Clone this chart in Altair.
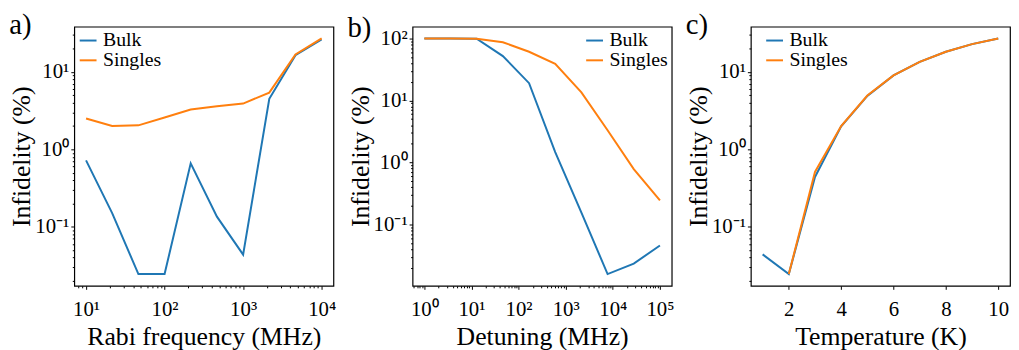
import math
import altair as alt
import pandas as pd

FONT = "Liberation Serif, Times New Roman, serif"
BLUE = "#1f77b4"
ORANGE = "#ff7f0e"

# ---- data ----
# a) Rabi frequency sweep
rabi_mhz = [10, 21.5, 46.4, 100, 215, 464, 1000, 2154, 4642, 10000]
rabi_bulk = [0.72, 0.15, 0.0245, 0.0245, 0.66, 0.135, 0.0436, 4.5, 16.4, 26.2]
rabi_singles = [2.5, 2.0, 2.04, 2.57, 3.26, 3.6, 3.9, 5.4, 16.8, 27.0]

# b) Detuning sweep
detuning_mhz = [1, 3.59, 12.9, 46.4, 167, 599, 2154, 7743, 27826, 100000]
det_bulk = [100, 100, 99, 52, 19, 1.47, 0.155, 0.0158, 0.0233, 0.0457]
det_singles = [100, 100, 99, 87, 61, 39, 13.5, 3.3, 0.78, 0.245]

# c) Temperature sweep
temperature_k = [1, 2, 3, 4, 5, 6, 7, 8, 9, 10]
temp_bulk = [0.044, 0.0245, 0.44, 1.98, 4.9, 9.0, 13.5, 18.2, 22.8, 27.0]
temp_singles = [None, 0.0245, 0.51, 2.0, 4.95, 9.0, 13.5, 18.2, 22.8, 27.0]

series_names = ["Bulk", "Singles"]

SUP = {-2: "⁻²", -1: "⁻¹", 0: "⁰", 1: "¹", 2: "²", 3: "³", 4: "⁴", 5: "⁵"}
EXP = "round(log(datum.value)/LN10)"
MAJOR = f"abs(log(datum.value)/LN10 - {EXP}) < 0.000001"


def sup_expr():
    expr = "''"
    for k in sorted(SUP, reverse=True):
        expr = f"({EXP} == {k} ? '{SUP[k]}' : {expr})"
    return expr


LOG_LABEL = f"{MAJOR} ? '10' + {sup_expr()} : ''"
TICK_SIZE = {"condition": {"test": MAJOR, "value": 3.5}, "value": 2}
AX = dict(labelFont=FONT, labelFontSize=21, labelColor="black", titleFont=FONT,
          titleFontSize=26, titleFontWeight="normal", titleColor="black",
          tickColor="black", tickWidth=1, grid=False, domain=False,
          labelOverlap=False, labelFlush=False, labelBound=False)


def log_domain(vals):
    lo = math.log10(min(vals))
    hi = math.log10(max(vals))
    m = 0.05 * (hi - lo)
    return [10 ** (lo - m), 10 ** (hi + m)]


def log_ticks(dom):
    out = []
    for e in range(-4, 8):
        for k in range(1, 10):
            v = k * 10 ** e
            if dom[0] <= v <= dom[1]:
                out.append(v)
    return out


def panel(xs, bulk, singles, xtitle, letter, xlog, legend):
    rows = []
    for name, ys in zip(series_names, [bulk, singles]):
        for x, y in zip(xs, ys):
            if y is not None:
                rows.append({"x": x, "y": y, "series": name})
    df = pd.DataFrame(rows)
    yvals = [v for v in bulk + singles if v is not None]
    ydom = log_domain(yvals)
    yaxis = alt.Axis(values=log_ticks(ydom), labelExpr=LOG_LABEL, tickSize=TICK_SIZE,
                     title="Infidelity (%)", titlePadding=0, labelPadding=2, **AX)
    yscale = alt.Scale(type="log", domain=ydom, nice=False)
    if xlog:
        xdom = log_domain(xs)
        xscale = alt.Scale(type="log", domain=xdom, nice=False)
        xaxis = alt.Axis(values=log_ticks(xdom), labelExpr=LOG_LABEL, tickSize=TICK_SIZE,
                         title=xtitle, labelPadding=9, titlePadding=5, **AX)
    else:
        span = max(xs) - min(xs)
        xdom = [min(xs) - 0.05 * span, max(xs) + 0.05 * span]
        xscale = alt.Scale(domain=xdom, nice=False, zero=False)
        xaxis = alt.Axis(values=[2, 4, 6, 8, 10], tickSize=3.5, title=xtitle,
                         labelPadding=9, titlePadding=5, **AX)
    return alt.Chart(df, title=alt.TitleParams(letter, anchor="start", frame="bounds",
                                               font=FONT, fontSize=29, fontWeight="normal",
                                               color="black", offset=-16)).mark_line(
        strokeWidth=2
    ).encode(
        x=alt.X("x:Q", scale=xscale, axis=xaxis),
        y=alt.Y("y:Q", scale=yscale, axis=yaxis),
        color=alt.Color("series:N", scale=alt.Scale(domain=series_names, range=[BLUE, ORANGE]),
                        legend=legend),
    ).properties(width=262, height=262)


def make_legend(**kw):
    base = dict(title=None, symbolType="stroke", symbolSize=289, symbolStrokeWidth=2,
                labelFont=FONT, labelFontSize=20, labelColor="black", labelOffset=5,
                rowPadding=0, padding=0)
    base.update(kw)
    return alt.Legend(**base)


pa = panel(rabi_mhz, rabi_bulk, rabi_singles, "Rabi frequency (MHz)", "a)", True,
           make_legend(orient="top-left", offset=4))
pb = panel(detuning_mhz, det_bulk, det_singles, "Detuning (MHz)", "b)", True,
           make_legend(orient="top-right", offset=4))
pc = panel(temperature_k, temp_bulk, temp_singles, "Temperature (K)", "c)", False,
           make_legend(orient="none", legendX=14, legendY=4))

chart = alt.hconcat(pa, pb, pc, spacing=80, bounds="flush").resolve_scale(
    color="independent"
).resolve_legend(color="independent").configure(
    font=FONT, background="white", padding=0
).configure_view(stroke="black", strokeWidth=1.2)

chart.save("out.html", embed_options={"renderer": "svg", "actions": False})
